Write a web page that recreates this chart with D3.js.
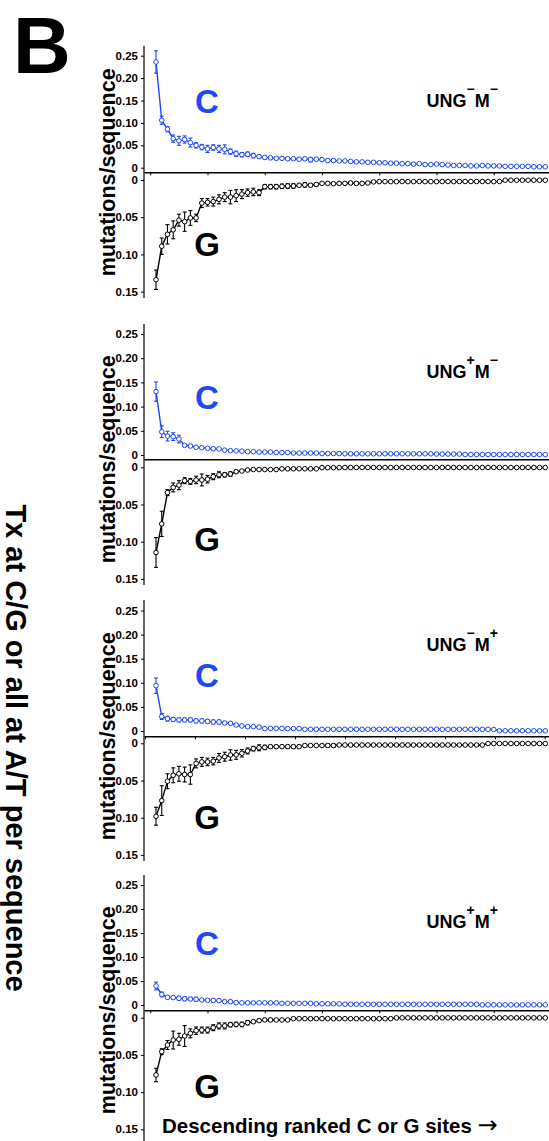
<!DOCTYPE html>
<html>
<head>
<meta charset="utf-8">
<script src="https://cdn.jsdelivr.net/npm/d3@7"></script>
<style>
body { margin: 0; background: #fff; }
svg { display: block; font-family: "Liberation Sans", Arial, sans-serif; font-weight: bold; }
</style>
</head>
<body>
<div id="chart"></div>
<script>
// mutations/sequence at ranked C sites (top) and G sites (bottom), 69 sites per panel
var c1 = [0.236,0.106,0.086,0.065,0.060,0.063,0.056,0.050,0.046,0.042,
          0.045,0.042,0.041,0.036,0.031,0.029,0.030,0.027,0.025,0.023,
          0.022,0.021,0.021,0.020,0.020,0.019,0.020,0.018,0.019,0.018,
          0.016,0.016,0.015,0.015,0.014,0.013,0.013,0.012,0.012,0.011,
          0.011,0.010,0.010,0.009,0.009,0.008,0.009,0.007,0.007,0.008,
          0.007,0.006,0.005,0.005,0.005,0.004,0.004,0.005,0.004,0.004,
          0.004,0.003,0.003,0.003,0.003,0.003,0.002,0.002,0.002];
var c1err = [0.025,0.009,0.006,0.008,0.010,0.008,0.010,0.006,0.006,0.008,
          0.006,0.008,0.010,0.006,0.006,0.005,0.005,0.005,0.004,0.004,
          0.003,0.003,0.003,0.003,0.003,0.003,0.003,0.005,0.003,0.003,
          0.003,0.003,0.002,0.002,0.002,0.002,0.002,0.002,0.002,0.002,
          0.002,0.002,0.002,0.002,0.002,0.002,0.001,0.001,0.002,0.002,
          0.001,0.001,0,0,0,0,0,0,0,0.001,
          0.001,0.001,0,0,0,0,0,0,0];
var g1 = [0.134,0.089,0.073,0.067,0.054,0.056,0.051,0.051,0.031,0.030,
          0.029,0.026,0.023,0.023,0.021,0.019,0.017,0.016,0.017,0.009,
          0.009,0.009,0.0085,0.008,0.008,0.007,0.0065,0.007,0.006,0.0045,
          0.0045,0.005,0.0045,0.0045,0.004,0.0045,0.0045,0.004,0.0025,0.0022,
          0.0022,0.0022,0.0022,0.002,0.0022,0.0022,0.002,0.0022,0.0022,0.0022,
          0.002,0.002,0.0022,0.002,0.002,0.002,0.002,0.002,0.002,0.0022,
          0.002,0.0003,0.0003,0.0003,0.0003,0.0003,0.0003,0.0003,0.0003];
var g1err = [0.013,0.011,0.013,0.012,0.008,0.013,0.010,0.005,0.006,0.005,
          0.006,0.006,0.006,0.009,0.008,0.006,0.005,0.005,0.004,0.003,
          0.003,0.003,0.003,0.003,0.003,0.002,0.003,0.002,0.002,0.001,
          0.001,0.001,0.001,0.001,0.002,0.002,0.001,0.001,0,0,
          0,0,0,0,0,0,0,0,0,0,
          0,0,0,0,0,0,0,0,0,0,
          0,0,0,0,0,0,0,0,0];

var c2 = [0.131,0.048,0.039,0.038,0.033,0.020,0.0186,0.016,0.015,0.014,
          0.013,0.0125,0.010,0.009,0.0085,0.008,0.007,0.007,0.006,0.006,
          0.006,0.005,0.005,0.005,0.004,0.004,0.004,0.004,0.004,0.003,
          0.003,0.003,0.003,0.0025,0.0025,0.0025,0.0025,0.0025,0.0025,0.0025,
          0.0025,0.0025,0.0025,0.0025,0.0025,0.0025,0.0025,0.0025,0.0025,0.002,
          0.002,0.002,0.002,0.002,0.001,0.001,0.001,0.001,0.001,0.001,
          0.001,0.001,0.001,0.001,0.001,0.001,0.001,0.001,0.001];
var c2err = [0.020,0.012,0.010,0.008,0.008,0.002,0.002,0.002,0,0,
          0,0,0,0,0,0,0,0,0,0,
          0,0,0,0,0,0,0,0,0,0,
          0,0,0,0,0,0,0,0,0,0,
          0,0,0,0,0,0,0,0,0,0,
          0,0,0,0,0,0,0,0,0,0,
          0,0,0,0,0,0,0,0,0];
var g2 = [0.1145,0.076,0.034,0.027,0.024,0.018,0.019,0.017,0.017,0.016,
          0.0126,0.010,0.010,0.009,0.006,0.005,0.0036,0.003,0.003,0.003,
          0.003,0.003,0.002,0.002,0.002,0.002,0.002,0.002,0.002,0.0005,
          0.0005,0.0005,0.0005,0.0003,0.0003,0.0003,0.0003,0.0003,0.0003,0.0003,
          0.0003,0.0003,0.0003,0.0003,0.0003,0.0003,0.0003,0.0003,0.0003,0.0003,
          0.0003,0.0003,0.0003,0.0003,0.0003,0.0003,0.0003,0.0003,0.0003,0.0003,
          0.0003,0.0003,0.0003,0.0003,0.0003,0.0003,0.0003,0.0003,0.0003];
var g2err = [0.020,0.017,0.004,0.006,0.006,0.004,0.004,0.005,0.008,0.005,
          0.004,0.004,0.003,0.003,0.002,0,0,0,0,0,
          0,0,0,0,0,0,0,0,0,0,
          0,0,0,0,0,0,0,0,0,0,
          0,0,0,0,0,0,0,0,0,0,
          0,0,0,0,0,0,0,0,0,0,
          0,0,0,0,0,0,0,0,0];

var c3 = [0.094,0.030,0.0255,0.024,0.023,0.023,0.023,0.021,0.021,0.020,
          0.0187,0.0187,0.0166,0.016,0.0124,0.0104,0.009,0.009,0.008,0.005,
          0.0055,0.0055,0.0055,0.005,0.005,0.005,0.0035,0.0035,0.0035,0.0035,
          0.0035,0.0035,0.0035,0.0035,0.0035,0.0035,0.0035,0.0035,0.0035,0.0035,
          0.0035,0.0035,0.0035,0.0035,0.0035,0.0035,0.0035,0.0035,0.0035,0.0035,
          0.0035,0.0035,0.0035,0.0035,0.0035,0.0035,0.0035,0.0035,0.0035,0.003,
          0.0005,0.0005,0.0005,0.0005,0.0005,0.0005,0.0005,0.0005,0.0005];
var c3err = [0.016,0.006,0.005,0.004,0.004,0.004,0.004,0.004,0.004,0.004,
          0.004,0.004,0.003,0.002,0.002,0.002,0.002,0.002,0.002,0.002,
          0.002,0,0,0,0,0,0,0,0,0,
          0,0,0,0,0,0,0,0,0,0,
          0,0,0,0,0,0,0,0,0,0,
          0,0,0,0,0,0,0,0,0,0,
          0,0,0,0,0,0,0,0,0];
var g3 = [0.098,0.077,0.051,0.043,0.041,0.042,0.042,0.027,0.025,0.025,
          0.024,0.0197,0.018,0.0157,0.0155,0.0134,0.0103,0.0072,0.006,0.0055,
          0.0045,0.0045,0.0045,0.0045,0.0045,0.0045,0.003,0.003,0.003,0.003,
          0.003,0.003,0.0023,0.0023,0.0023,0.0023,0.0023,0.0023,0.0023,0.0023,
          0.0023,0.0023,0.0023,0.0023,0.0023,0.0023,0.0023,0.0023,0.0023,0.0023,
          0.0023,0.0023,0.0023,0.0023,0.0023,0.0023,0.0023,0.0023,0.0003,0.0003,
          0.0003,0.0003,0.0003,0.0003,0.0003,0.0003,0.0003,0.0003,0.0003];
var g3err = [0.012,0.020,0.010,0.010,0.010,0.010,0.013,0.006,0.006,0.005,
          0.005,0.006,0.006,0.007,0.006,0.005,0.004,0.003,0.004,0.003,
          0.002,0.002,0.002,0.002,0.002,0.002,0.001,0.001,0.001,0.001,
          0.002,0.002,0.001,0,0,0,0,0,0,0,
          0,0,0,0,0,0,0,0,0,0,
          0,0,0,0,0,0,0,0,0,0,
          0,0,0,0,0,0,0,0,0];

var c4 = [0.0396,0.022,0.016,0.0155,0.014,0.013,0.0125,0.012,0.0104,0.010,
          0.0097,0.009,0.007,0.007,0.005,0.0045,0.0045,0.0045,0.0045,0.0045,
          0.0045,0.0045,0.0035,0.0035,0.0035,0.0035,0.0035,0.0035,0.0025,0.0025,
          0.0025,0.0025,0.0025,0.0015,0.0015,0.0015,0.0015,0.0015,0.0015,0.0015,
          0.0015,0.0015,0.0015,0.0015,0.0015,0.0015,0.0015,0.0015,0.0015,0.0015,
          0.0015,0.0015,0.0015,0.0015,0.0015,0.0015,0.0015,0.0003,0.0003,0.0003,
          0.0003,0.0003,0.0003,0.0003,0.0003,0.0003,0.0003,0.0003,0.0003];
var c4err = [0.008,0.005,0.003,0.003,0.004,0.004,0.003,0.004,0.002,0.002,
          0.003,0.003,0.002,0.003,0.001,0,0,0,0,0,
          0,0,0,0,0,0,0,0,0,0,
          0,0,0,0,0,0,0,0,0,0,
          0,0,0,0,0,0,0,0,0,0,
          0,0,0,0,0,0,0,0,0,0,
          0,0,0,0,0,0,0,0,0];
var g4 = [0.077,0.0457,0.0367,0.030,0.029,0.0246,0.021,0.0175,0.0166,0.0166,
          0.0134,0.011,0.011,0.0094,0.009,0.009,0.0067,0.0054,0.004,0.003,
          0.003,0.003,0.003,0.003,0.0013,0.0013,0.0013,0.0013,0.0013,0.0013,
          0.0013,0.0013,0.0013,0.0013,0.0013,0.0013,0.0013,0.0013,0.0013,0.0013,
          0.0013,0.0013,0.0002,0.0002,0.0002,0.0002,0.0002,0.0002,0.0002,0.0002,
          0.0002,0.0002,0.0002,0.0002,0.0002,0.0002,0.0002,0.0002,0.0002,0.0002,
          0.0002,0.0002,0.0002,0.0002,0.0002,0.0002,0.0002,0.0002,0.0002];
var g4err = [0.009,0.004,0.006,0.012,0.008,0.014,0.006,0.005,0.004,0.004,
          0.004,0.004,0.004,0.003,0.003,0.003,0.003,0.002,0.002,0.002,
          0.002,0,0,0,0,0,0,0,0,0,
          0,0,0,0,0,0,0,0,0,0,
          0,0,0,0,0,0,0,0,0,0,
          0,0,0,0,0,0,0,0,0,0,
          0,0,0,0,0,0,0,0,0];

var cTicks = [0, 0.05, 0.10, 0.15, 0.20, 0.25];
var gTicks = [0, 0.05, 0.10, 0.15];
var rankTicks = [0, 10, 20, 30, 40, 50, 60];
var rankTicksAlt = [-0.93, 7.8, 16.54, 25.27, 34.0, 42.75, 51.5, 60.2, 68.9];
var ungSup = [["\u2212", "\u2212"], ["+", "\u2212"], ["\u2212", "+"], ["+", "+"]];

var W = 549, H = 1141;
var blue = "#1f47f4";

// where each panel sits on the page
var layout = [
    { cZero: 167.7, cStep: 22.4, axisY: 172.3, gZero: 180.0,  top: 45.7, bottom: 298,  cLab: 113,   gLab: 256,  ungY: 107 },
    { cZero: 455.0, cStep: 24.2, axisY: 459.3, gZero: 467.3,  top: 324,  bottom: 585,  cLab: 408.5, gLab: 551,  ungY: 377.5 },
    { cZero: 731.0, cStep: 24.1, axisY: 736.3, gZero: 743.3,  top: 600,  bottom: 861,  cLab: 686.5, gLab: 829,  ungY: 651 },
    { cZero: 1005,  cStep: 24.0, axisY: 1010.3, gZero: 1017.7, top: 875, bottom: 1141, cLab: 955,   gLab: 1098, ungY: 928 }
];
var gStep = 37.2;
var axisX = 144;

var panelData = [
    { c: c1, ce: c1err, g: g1, ge: g1err, ticks: rankTicks },
    { c: c2, ce: c2err, g: g2, ge: g2err, ticks: [] },
    { c: c3, ce: c3err, g: g3, ge: g3err, ticks: rankTicksAlt },
    { c: c4, ce: c4err, g: g4, ge: g4err, ticks: rankTicks }
];

var svg = d3.select("#chart").append("svg")
    .attr("width", W)
    .attr("height", H);

var x = d3.scaleLinear().domain([-1.1, 70]).range([axisX, 551]);

function tickFmt(d) {
    return d === 0 ? "0" : d3.format(".2f")(d);
}

function drawSeries(g, vals, errs, y, color) {
    var pts = vals.map(function (v, i) { return { r: i + 1, v: v, e: errs[i] }; });

    g.append("path")
        .datum(pts)
        .attr("fill", "none")
        .attr("stroke", color)
        .attr("stroke-width", 1.4)
        .attr("d", d3.line().x(function (d) { return x(d.r); }).y(function (d) { return y(d.v); }));

    var eb = g.append("g")
        .attr("stroke", color)
        .attr("stroke-width", 1.1)
        .selectAll("g")
        .data(pts.filter(function (d) { return d.e > 0; }))
        .join("g");
    eb.append("line")
        .attr("x1", function (d) { return x(d.r); })
        .attr("x2", function (d) { return x(d.r); })
        .attr("y1", function (d) { return y(d.v - d.e); })
        .attr("y2", function (d) { return y(d.v + d.e); });
    eb.append("line")
        .attr("x1", function (d) { return x(d.r) - 2; })
        .attr("x2", function (d) { return x(d.r) + 2; })
        .attr("y1", function (d) { return y(d.v + d.e); })
        .attr("y2", function (d) { return y(d.v + d.e); });
    eb.append("line")
        .attr("x1", function (d) { return x(d.r) - 2; })
        .attr("x2", function (d) { return x(d.r) + 2; })
        .attr("y1", function (d) { return y(d.v - d.e); })
        .attr("y2", function (d) { return y(d.v - d.e); });

    g.append("g")
        .selectAll("circle")
        .data(pts)
        .join("circle")
        .attr("cx", function (d) { return x(d.r); })
        .attr("cy", function (d) { return y(d.v); })
        .attr("r", 2.3)
        .attr("fill", "#fff")
        .attr("stroke", color)
        .attr("stroke-width", 1);
}

function drawPanel(i) {
    var L = layout[i], P = panelData[i];
    var g = svg.append("g");

    var yC = d3.scaleLinear().domain([0, 0.25]).range([L.cZero, L.cZero - 5 * L.cStep]);
    var yG = d3.scaleLinear().domain([0, 0.15]).range([L.gZero, L.gZero + 3 * gStep]);

    // vertical axis line across both halves
    g.append("line")
        .attr("x1", axisX).attr("x2", axisX)
        .attr("y1", L.top).attr("y2", L.bottom)
        .attr("stroke", "#000").attr("stroke-width", 1.2);

    var ac = g.append("g")
        .attr("transform", "translate(" + axisX + ",0)")
        .call(d3.axisLeft(yC).tickValues(cTicks).tickSize(3).tickFormat(tickFmt));
    var ag = g.append("g")
        .attr("transform", "translate(" + axisX + ",0)")
        .call(d3.axisLeft(yG).tickValues(gTicks).tickSize(3).tickFormat(tickFmt));
    [ac, ag].forEach(function (a) {
        a.select(".domain").remove();
        a.selectAll("text")
            .attr("font-family", "Liberation Sans, Arial, sans-serif")
            .attr("font-weight", "bold")
            .attr("font-size", 11.5)
            .attr("fill", "#000");
    });

    var ax = g.append("g")
        .attr("transform", "translate(0," + L.axisY + ")")
        .call(d3.axisBottom(x).tickValues(P.ticks).tickSize(3).tickSizeOuter(0).tickFormat(""));
    ax.select(".domain").attr("stroke-width", 1.6);

    drawSeries(g, P.c, P.ce, yC, blue);
    drawSeries(g, P.g, P.ge, yG, "#000");

    g.append("text")
        .attr("x", 207).attr("y", L.cLab)
        .attr("text-anchor", "middle")
        .attr("font-size", 33)
        .attr("fill", blue)
        .text("C");
    g.append("text")
        .attr("x", 207).attr("y", L.gLab)
        .attr("text-anchor", "middle")
        .attr("font-size", 33)
        .attr("fill", "#000")
        .text("G");

    g.append("text")
        .attr("transform", "translate(115," + L.axisY + ") rotate(-90)")
        .attr("text-anchor", "middle")
        .attr("font-size", 21.5)
        .text("mutations/sequence");

    var ung = g.append("text")
        .attr("x", 426.5).attr("y", L.ungY)
        .attr("font-size", 18);
    ung.append("tspan").text("UNG");
    ung.append("tspan").attr("dy", -13).attr("font-size", 14).text(ungSup[i][0]);
    ung.append("tspan").attr("dy", 13).text("M");
    ung.append("tspan").attr("dy", -13).attr("font-size", 14).text(ungSup[i][1]);
}

for (var i = 0; i < layout.length; i++) {
    drawPanel(i);
}

svg.append("text")
    .attr("x", 13).attr("y", 73)
    .attr("font-size", 80)
    .text("B");

svg.append("text")
    .attr("transform", "translate(6,748) rotate(90)")
    .attr("text-anchor", "middle")
    .attr("font-size", 29)
    .text("Tx at C/G or all at A/T per sequence");

var xt = svg.append("text")
    .attr("x", 162).attr("y", 1133)
    .attr("font-size", 20.5);
xt.append("tspan").text("Descending ranked C or G sites ");
xt.append("tspan")
    .attr("font-family", "DejaVu Sans")
    .attr("font-weight", "normal")
    .attr("font-size", 24)
    .text("\u2192");
</script>
</body>
</html>
